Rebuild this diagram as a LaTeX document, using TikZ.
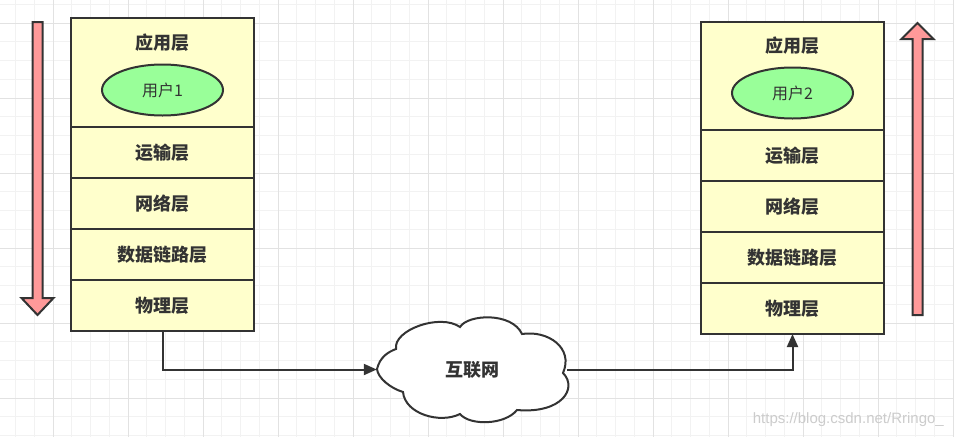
\documentclass[tikz,border=0pt]{standalone}
\usepackage{fontspec}
\setmainfont{Liberation Sans}
\newfontfamily\cjk{Noto Sans CJK SC}
\usetikzlibrary{arrows.meta,positioning,shapes.geometric}
\definecolor{linegray}{HTML}{333333}
\definecolor{layerfill}{HTML}{FFFFCC}
\definecolor{userfill}{HTML}{99FF99}
\definecolor{flowfill}{HTML}{FF9999}
\definecolor{minorline}{HTML}{F2F2F2}
\definecolor{majorline}{HTML}{E2E2E2}

\begin{document}
\begin{tikzpicture}[
  x=1pt, y=-1pt,
  node distance=0pt,
  layer/.style={draw=linegray, fill=layerfill, line width=2pt, outer sep=0pt, inner sep=0pt,
    minimum width=183pt, minimum height=51pt, text=linegray, font=\cjk\bfseries\fontsize{18}{20}\selectfont},
  lbl/.style={inner sep=0pt, text=linegray, font=\cjk\bfseries\fontsize{18}{20}\selectfont},
  user/.style={draw=linegray, fill=userfill, line width=2pt, ellipse, inner sep=0pt,
    minimum width=121pt, minimum height=51pt, text=linegray, font=\cjk\fontsize{16}{18}\selectfont},
  flow/.style={draw=linegray, fill=flowfill, line width=2pt, line join=miter},
  cloudline/.style={draw=linegray, fill=white, line width=2pt},
  cloudbox/.style={inner sep=0pt, minimum width=190pt, minimum height=105pt, text=linegray,
    font=\cjk\bfseries\fontsize{18}{20}\selectfont},
  link/.style={draw=linegray, line width=2pt, -{Triangle[length=13pt,width=11pt]}},
  watermark/.style={inner sep=0pt, text=black!20, font=\fontsize{15}{17}\selectfont}
]
\useasboundingbox (0,0) rectangle (954,437);
\fill[white] (0,0) rectangle (954,437);

% background grid
\foreach \i in {0,...,51} \draw[minorline, line width=1pt] ({-3.25+18.75*\i},0) -- ++(0,437);
\foreach \i in {0,...,23} \draw[minorline, line width=1pt] (0,{4.25+18.75*\i}) -- ++(954,0);
\foreach \i in {0,...,13} \draw[majorline, line width=1pt] ({-22+75*\i},0) -- ++(0,437);
\foreach \i in {0,...,5} \draw[majorline, line width=1pt] (0,{23+75*\i}) -- ++(954,0);

% direction arrows
\draw[flow] (32.5,22) -- (42.5,22) -- (42.5,298) -- (53.5,298) -- (37.5,315) -- (21.5,298) -- (32.5,298) -- cycle;
\draw[flow] (912.5,315) -- (922.5,315) -- (922.5,39) -- (933.5,39) -- (917.5,23) -- (901.5,39) -- (912.5,39) -- cycle;

% sender stack
\node[layer, minimum height=109pt] (app1) at (162.5,72.5) {};
\node[lbl] (t1) at ([yshift=-25pt]app1.north) {应用层};
\node[user] (u1) at ([yshift=-72pt]app1.north) {用户1};
\node[layer, below=of app1] (tra1) {运输层};
\node[layer, below=of tra1] (net1) {网络层};
\node[layer, below=of net1] (dl1) {数据链路层};
\node[layer, below=of dl1] (phy1) {物理层};

% receiver stack
\node[layer, minimum height=108pt] (app2) at (792.5,76) {};
\node[lbl] (t2) at ([yshift=-24pt]app2.north) {应用层};
\node[user] (u2) at ([yshift=-71pt]app2.north) {用户2};
\node[layer, below=of app2] (tra2) {运输层};
\node[layer, below=of tra2] (net2) {网络层};
\node[layer, below=of net2] (dl2) {数据链路层};
\node[layer, below=of dl2] (phy2) {物理层};

% internet cloud
\coordinate (netc) at (472,369.5);
\begin{scope}[shift={(netc)}]
\path[cloudline] (-95,-0.5) .. controls (-92,-12.5) and (-84,-17.5) .. (-76,-20.5)
  .. controls (-79,-39.5) and (-32,-56.5) .. (-12,-42.5)
  .. controls (-4,-55.5) and (40,-57.5) .. (50,-35.5)
  .. controls (76,-39.5) and (102,-21.5) .. (91,3.5)
  .. controls (106,18.5) and (90,44.5) .. (45,40.5)
  .. controls (33,55.5) and (-2,56.5) .. (-12,44.5)
  .. controls (-32,54.5) and (-67,44.5) .. (-69,22.5)
  .. controls (-82,18.5) and (-94,8.5) .. cycle;
\end{scope}
\node[cloudbox] (net) at (netc) {互联网};

\draw[link] (phy1.south) |- (net.west);
\draw[link] (net.east) -| (phy2.south);

\node[watermark, anchor=base east] (src) at (944,423) {https://blog.csdn.net/Rringo\_};
\end{tikzpicture}
\end{document}
